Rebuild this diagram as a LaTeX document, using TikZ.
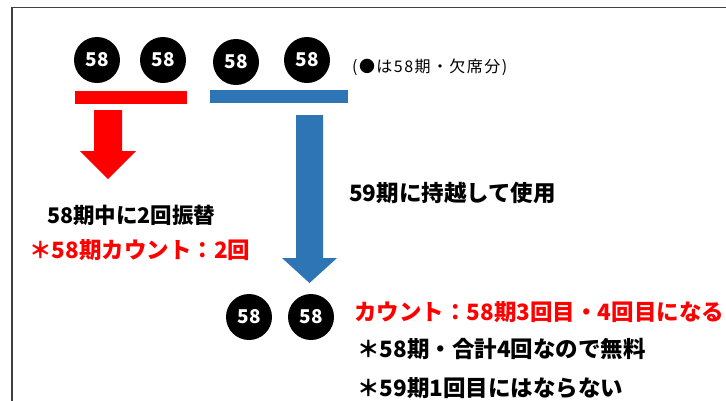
\documentclass[tikz,border=0pt]{standalone}
\usepackage{fontspec}
\newfontfamily\jp{Noto Sans CJK JP}
\newfontfamily\jpnote{Noto Sans CJK JP}[LetterSpace=9]
\definecolor{officeblue}{HTML}{2E75B6}
\begin{document}
\begin{tikzpicture}[x=1pt,y=-1pt,
  ball/.style={circle,fill=black,minimum size=46pt,inner sep=0pt,text=white,font=\jp\bfseries\fontsize{19}{19}\selectfont},
  bar/.style={rectangle,inner sep=0pt,minimum height=13pt},
  lbl/.style={anchor=west,inner sep=0pt,font=\jp\bfseries\fontsize{22.5}{22.5}\selectfont},
  note/.style={anchor=west,inner sep=0pt,font=\jpnote\fontsize{16}{16}\selectfont}]
\useasboundingbox (0,0) rectangle (726,400);
\fill[white] (0,0) rectangle (726,400);
\draw[line width=1.2pt,black!75] (12,401) -- (12,7.5) -- (727,7.5);
% top circles
\node[ball] (c1) at (97,60) {58};
\node[ball] (c2) at (163,60) {58};
\node[ball] (c3) at (236,62) {58};
\node[ball] (c4) at (307,60) {58};
\node[note] (t1) at (352,67) {(●は58期・欠席分)};
% bars
\node[bar,fill=red,minimum width=112pt] (rb) at (131,97.5) {};
\node[bar,fill=officeblue,minimum width=138pt] (bb) at (279,96.5) {};
% arrows
\fill[red] (94,110) -- (122,110) -- (122,151) -- (136,151) -- (108,179) -- (80,151) -- (94,151) -- cycle;
\fill[officeblue] (296,115) -- (323,115) -- (323,258) -- (337,258) -- (309.5,283) -- (282,258) -- (296,258) -- cycle;
% texts
\node[lbl] (t2) at (349,193) {59期に持越して使用};
\node[lbl,font=\jp\bfseries\fontsize{21.5}{21.5}\selectfont] (t3) at (47,215) {58期中に2回振替};
\node[lbl,text=red] (t4) at (29,250) {＊58期カウント：2回};
% bottom circles
\node[ball] (c5) at (249,317) {58};
\node[ball] (c6) at (311,317) {58};
\node[lbl,text=red] (t5) at (354,312) {カウント：58期3回目・4回目になる};
\node[lbl] (t6) at (357,349) {＊58期・合計4回なので無料};
\node[lbl] (t7) at (357,388) {＊59期1回目にはならない};
\end{tikzpicture}
\end{document}
